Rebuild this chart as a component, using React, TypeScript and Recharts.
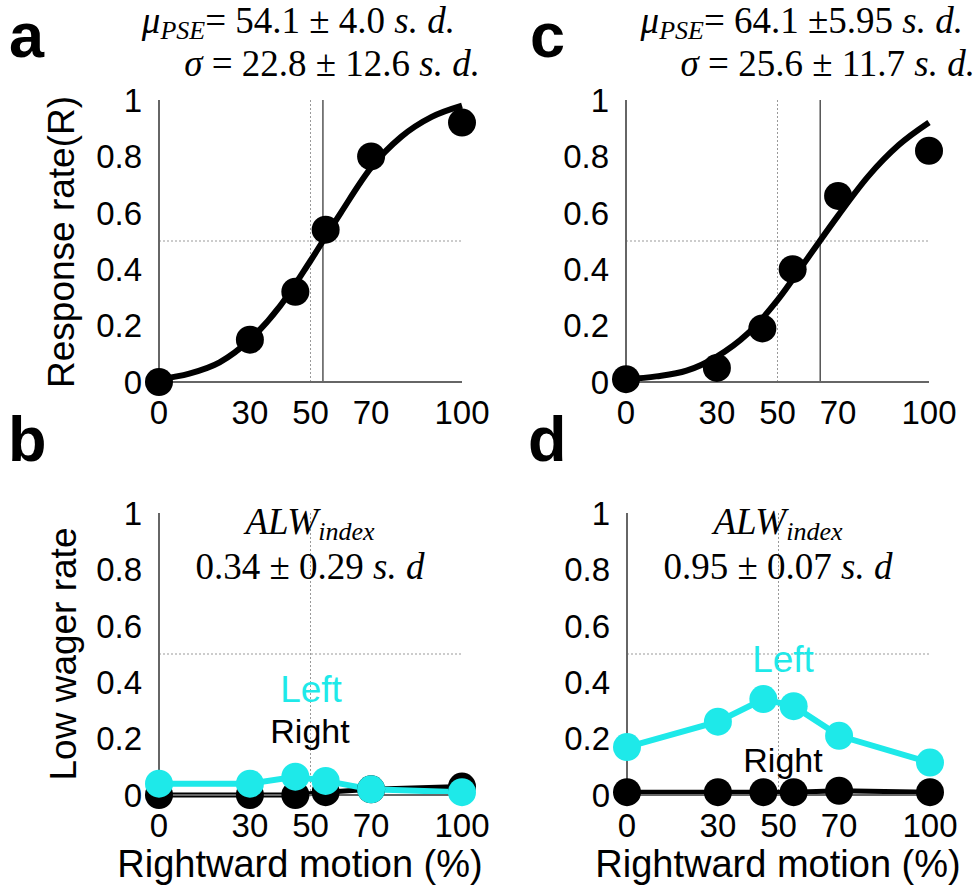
import React from "react";
import {
  ComposedChart,
  LineChart,
  Line,
  Scatter,
  XAxis,
  YAxis,
  ReferenceLine,
} from "recharts";

// motion coherence levels (% rightward)
const motion = [0, 30, 45, 55, 70, 100];
const xTicks = [0, 30, 50, 70, 100];
const yTicks = [0, 0.2, 0.4, 0.6, 0.8, 1];

// panel a / c: observed response rate
const respA = [0, 0.15, 0.32, 0.54, 0.8, 0.92];
const respC = [0.01, 0.05, 0.19, 0.4, 0.66, 0.82];

// fitted psychometric curves
const fitX = [0, 10, 20, 30, 40, 50, 60, 70, 80, 90, 100];
const fitA = [0.01, 0.03, 0.07, 0.15, 0.27, 0.43, 0.6, 0.76, 0.87, 0.94, 0.98];
const fitC = [0.01, 0.02, 0.04, 0.09, 0.17, 0.29, 0.44, 0.59, 0.73, 0.84, 0.92];

const pseA = 54.1;
const pseC = 64.1;

// panel b / d: low wager rate
const rightB = [0, 0, 0, 0.01, 0.02, 0.03];
const leftB = [0.04, 0.04, 0.065, 0.05, 0.02, 0.01];
const rightD = [0.01, 0.01, 0.01, 0.01, 0.015, 0.01];
const leftD = [0.17, 0.26, 0.34, 0.315, 0.21, 0.115];

const SANS = "'Liberation Sans', Arial, sans-serif";
const SERIF = "'Liberation Serif', 'Times New Roman', serif";
const AXIS = "#666";
const CYAN = "#1ee9e9";

const tickStyle = { fill: "#000", fontSize: 33, fontFamily: SANS };

const toXY = (xs: number[], ys: number[]) => xs.map((x, i) => ({ x, y: ys[i] }));

const Dot = (props: any) => <circle cx={props.cx} cy={props.cy} r={14} fill="#000" />;

function Axes(yKey?: string) {
  return [
    <XAxis
      key="x"
      type="number"
      dataKey="x"
      domain={[0, 100]}
      ticks={xTicks}
      interval={0}
      height={60}
      axisLine={{ stroke: AXIS, strokeWidth: 2 }}
      tickLine={false}
      tickMargin={13}
      tick={tickStyle}
    />,
    <YAxis
      key="y"
      type="number"
      dataKey={yKey}
      domain={[0, 1]}
      ticks={yTicks}
      interval={0}
      width={60}
      axisLine={{ stroke: AXIS, strokeWidth: 2 }}
      tickLine={false}
      tickMargin={11}
      tick={tickStyle}
    />,
    <ReferenceLine key="h" y={0.5} stroke="#999" strokeDasharray="2 2" />,
    <ReferenceLine key="v" x={50} stroke="#999" strokeDasharray="2 2" />,
  ];
}

function PsychPanel({ left, ml, mr, pts, fit, pse }: any) {
  return (
    <div style={{ position: "absolute", left, top: 80 }}>
      <ComposedChart
        width={490}
        height={362}
        margin={{ top: 20, right: mr, bottom: 0, left: ml }}
      >
        {Axes("y")}
        <ReferenceLine x={pse} stroke="#555" strokeWidth={1.5} />
        <Line
          data={fit}
          dataKey="y"
          type="monotone"
          stroke="#000"
          strokeWidth={6}
          dot={false}
          activeDot={false}
          isAnimationActive={false}
        />
        <Scatter data={pts} fill="#000" shape={Dot} isAnimationActive={false} />
      </ComposedChart>
    </div>
  );
}

function WagerPanel({ left, ml, mr, right, leftSide }: any) {
  const rows = motion.map((x, i) => ({ x, right: right[i], left: leftSide[i] }));
  return (
    <div style={{ position: "absolute", left, top: 490 }}>
      <LineChart
        width={490}
        height={365}
        data={rows}
        margin={{ top: 23, right: mr, bottom: 0, left: ml }}
      >
        {Axes()}
        <Line
          dataKey="right"
          type="linear"
          stroke="#000"
          strokeWidth={5}
          dot={{ r: 14, fill: "#000", stroke: "none" }}
          activeDot={false}
          isAnimationActive={false}
        />
        <Line
          dataKey="left"
          type="linear"
          stroke={CYAN}
          strokeWidth={6}
          dot={{ r: 14, fill: CYAN, stroke: "none" }}
          activeDot={false}
          isAnimationActive={false}
        />
      </LineChart>
    </div>
  );
}

function Stat({ x, y, anchor, sym, sub, body, sd }: any) {
  return (
    <text x={x} y={y} textAnchor={anchor} fontFamily={SERIF} fontSize={37} fill="#000">
      <tspan fontStyle="italic">{sym}</tspan>
      {sub && (
        <tspan fontStyle="italic" fontSize={26} dy={6}>
          {sub}
        </tspan>
      )}
      <tspan dy={sub ? -6 : 0}>{body}</tspan>
      {sd && <tspan fontStyle="italic">{sd}</tspan>}
    </text>
  );
}

function Overlay() {
  return (
    <svg
      width={980}
      height={890}
      style={{ position: "absolute", left: 0, top: 0, pointerEvents: "none" }}
    >
      <g fontFamily={SANS} fontWeight="bold" fontSize={63} fill="#000">
        <text x={9} y={57}>a</text>
        <text x={530} y={57}>c</text>
        <text x={8} y={461}>b</text>
        <text x={528} y={461}>d</text>
      </g>

      <Stat x={455} y={33} anchor="end" sym="μ" sub="PSE" body="= 54.1 ± 4.0 " sd="s. d." />
      <Stat x={480} y={76} anchor="end" sym="σ" body=" = 22.8 ± 12.6 " sd="s. d." />
      <Stat x={963} y={33} anchor="end" sym="μ" sub="PSE" body="= 64.1 ±5.95 " sd="s. d." />
      <Stat x={975} y={76} anchor="end" sym="σ" body=" = 25.6 ± 11.7 " sd="s. d." />

      <Stat x={310} y={534} anchor="middle" sym="ALW" sub="index" body="" />
      <Stat x={310} y={579} anchor="middle" sym="" body="0.34 ± 0.29 " sd="s. d" />
      <Stat x={778} y={534} anchor="middle" sym="ALW" sub="index" body="" />
      <Stat x={778} y={579} anchor="middle" sym="" body="0.95 ± 0.07 " sd="s. d" />

      <g fontFamily={SANS} fill="#000">
        <text transform="translate(74,242) rotate(-90)" textAnchor="middle" fontSize={37}>
          Response rate(R)
        </text>
        <text transform="translate(76,654) rotate(-90)" textAnchor="middle" fontSize={37}>
          Low wager rate
        </text>
        <text x={300} y={877} textAnchor="middle" fontSize={38}>
          Rightward motion (%)
        </text>
        <text x={778} y={877} textAnchor="middle" fontSize={38}>
          Rightward motion (%)
        </text>

        <text x={311} y={702} textAnchor="middle" fontSize={37} fill={CYAN}>Left</text>
        <text x={310} y={743} textAnchor="middle" fontSize={34}>Right</text>
        <text x={783} y={672} textAnchor="middle" fontSize={37} fill={CYAN}>Left</text>
        <text x={783} y={772} textAnchor="middle" fontSize={34}>Right</text>
      </g>
    </svg>
  );
}

export default function App() {
  return (
    <div
      style={{
        position: "absolute",
        left: 0,
        top: 0,
        width: 980,
        height: 890,
        background: "#fff",
        overflow: "hidden",
      }}
    >
      <PsychPanel left={0} ml={99} mr={28} pts={toXY(motion, respA)} fit={toXY(fitX, fitA)} pse={pseA} />
      <PsychPanel left={490} ml={76} mr={51} pts={toXY(motion, respC)} fit={toXY(fitX, fitC)} pse={pseC} />
      <WagerPanel left={0} ml={99} mr={28} right={rightB} leftSide={leftB} />
      <WagerPanel left={490} ml={77} mr={50} right={rightD} leftSide={leftD} />
      <Overlay />
    </div>
  );
}
